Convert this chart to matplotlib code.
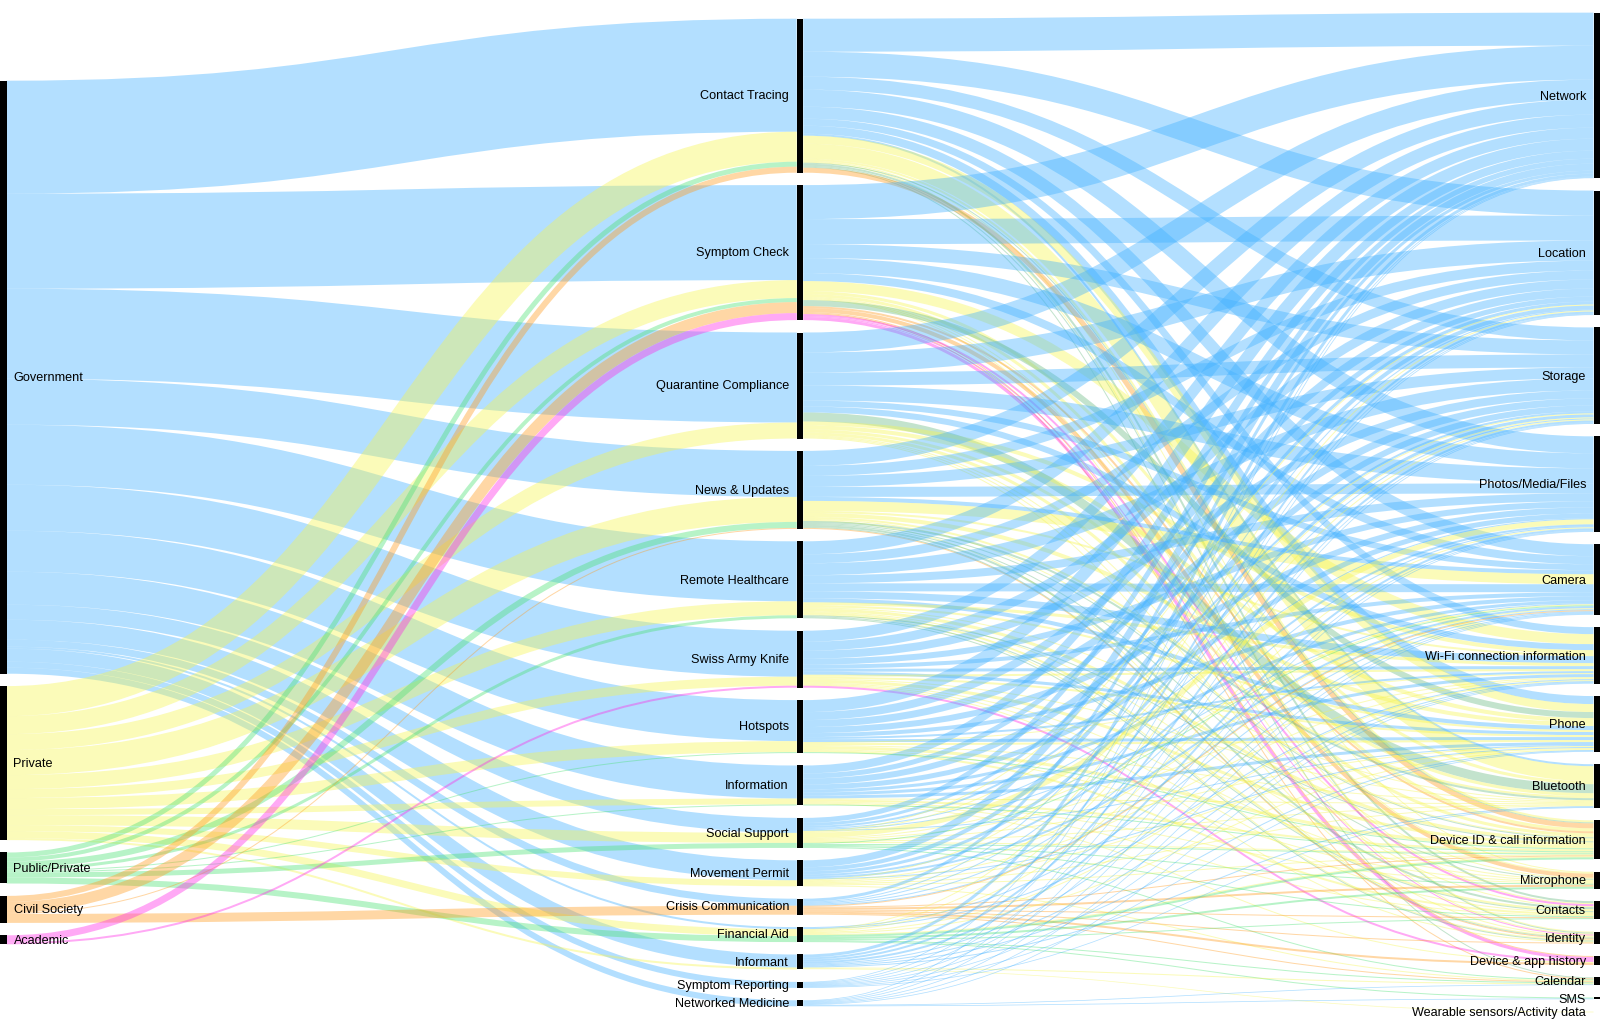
import matplotlib
matplotlib.use("Agg")
import matplotlib.pyplot as plt
from matplotlib.path import Path
from matplotlib.patches import PathPatch, Rectangle

plt.rcParams['font.family'] = ['Liberation Sans', 'DejaVu Sans']

sectors = ["Government", "Private", "Public/Private", "Civil Society", "Academic"]
purposes = ["Contact Tracing", "Symptom Check", "Quarantine Compliance", "News & Updates",
            "Remote Healthcare", "Swiss Army Knife", "Hotspots", "Information", "Social Support",
            "Movement Permit", "Crisis Communication", "Financial Aid", "Informant",
            "Symptom Reporting", "Networked Medicine"]
permissions = ["Network", "Location", "Storage", "Photos/Media/Files", "Camera",
               "Wi-Fi connection information", "Phone", "Bluetooth", "Device ID & call information",
               "Microphone", "Contacts", "Identity", "Device & app history", "Calendar", "SMS",
               "Wearable sensors/Activity data"]

# sector -> purpose, one row per sector
left_government = [113, 95, 90, 46, 60, 46, 41, 33, 15, 20, 7, 2, 13, 6, 6]
left_private = [30, 18, 16, 25, 14, 9, 11, 6, 10, 6, 0, 7, 2, 0, 0]
left_public = [5, 4, 0, 6, 3, 0, 1, 1, 5, 0, 0, 6, 0, 0, 0]
left_civil = [6, 11, 0, 1, 0, 0, 0, 0, 0, 0, 9, 0, 0, 0, 0]
left_academic = [0, 7, 0, 0, 0, 2, 0, 0, 0, 0, 0, 0, 0, 0, 0]

# purpose -> permission, one row per purpose, columns follow permissions (short rows end early)
right_government = [
    [33, 25, 13, 17, 12, 7, 8, 2],
    [34, 25, 14, 15, 8],
    [20, 20, 13, 15, 6, 6],
    [15, 10, 11, 10, 4],
    [13, 9, 12, 8, 8, 7, 4],
    [11, 9, 8, 6, 4, 3, 3],
    [12, 8, 7, 6, 4, 2, 3],
    [8, 5, 6, 5, 3, 3, 3],
    [5, 3, 2, 1, 1, 0, 1],
    [7, 4, 3, 2, 2, 0, 1],
    [3, 1, 1, 1, 1],
    [0, 0, 0, 0, 1, 1],
    [3, 2, 2, 2, 1, 1, 1, 1],
    [.75, .75, .75, .75, .75, .75, .75, .75],
    [.75, .75, .75, .75, .75, .75, 0, 0, 0, 0, 0, 0, 0, .75, .75],
]
right_blend_upper = [[], [], [0, 0, 0, 0, 0, 0, 0, 9]] + [[]] * 12
right_private = [
    [0, 0, 0, 0, 0, 0, 8, 15, 2, 1, 0, 1],
    [0, 0, 0, 0, 0, 10, 0, 3, 3, 1, 1, 1],
    [0, 0, 0, 0, 0, 4, 4, 3, 3, 1, 1, 1],
    [0, 0, 0, 0, 10, 2, 4, 2, 1, 0, 0, 1],
    [0, 0, 0, 0, 0, 3, 2, 1, 3, 1, 2, 1],
    [0, 0, 0, 0, 0, 2, 2, 1, 3, 1, 1, 1],
    [0, 0, 0, 0, 0, 1, 2, 1, 3, 1, 2],
    [0, 0, 0, 0, 0, 0, 0, 1, 2, 1, 1, 0, 1],
    [0, 1, 1, 5, 1, 1, 1, 1, 1],
    [0, 0, 1, 0, 1, 1, 1, 1, 1, 0, 0, 0, 0, 1],
    [],
    [0, 1, 1, 1, 0, 1, 1, 0, 1],
    [0, 0, 0, 0, 0, 0, 0, 0, 0, 0, 0, 0, 0, 1, 0, 0.7],
    [],
    [],
]
right_blend_lower = [
    [0, 0, 0, 0, 0, 0, 0, 0, 1, 0, 2, 1, 0, 1],
    [0, 0, 0, 0, 0, 0, 6],
    [],
    [0, 0, 0, 0, 0, 0, 0, 2, 1, 1, 2, 1],
    [0, 0, 0, 0, 0, 0, 0, 0, 1, 0, 1, 1],
] + [[]] * 10
right_public = [
    [], [], [], [], [], [],
    [0, 0, 0, 0, 0, 0, 0, 0, 1],
    [0, 0, 0, 0, 0, 0, 0, 0, 1],
    [0, 0, 0, 0, 1, 0, 0, 0, 1, 1, 1, 0, 0, 1],
    [], [],
    [0, 0, 0, 0, 0, 0, 0, 0, 2, 2, 1, 0, 0, 1, 1],
    [], [], [],
]
right_civil = [
    [0, 0, 0, 0, 0, 0, 0, 0, 5],
    [0, 0, 0, 0, 0, 0, 0, 0, 2, 4, 0, 0, 1, 1],
    [],
    [0, 0, 0, 0, 0, 0, 0, 0, 0, 0, 0, 1],
    [], [], [], [], [], [],
    [0, 0, 0, 0, 1, 0, 0, 0, 1, 2, 1, 1, 2, 1],
    [], [], [], [],
]
right_academic = [
    [],
    [0, 0, 0, 0, 0, 0, 0, 0, 0, 0, 2, 1, 3],
    [], [], [],
    [0, 0, 0, 0, 0, 0, 0, 0, 0, 0, 0, 0, 2],
    [], [], [], [], [], [], [], [], [],
]

BLUE = '#41b1ff'
YELLOW = '#f5f550'
GREEN = '#4be175'
ORANGE = '#ff9b1e'
PINK = '#ff2ae6'
BLEND = '#69bb82'
ALPHA = 0.4
DPI = 100
GAP = 12.4
CENTER = 512.5
BAR = 6.5

left_rows = [(left_government, BLUE), (left_private, YELLOW), (left_public, GREEN),
             (left_civil, ORANGE), (left_academic, PINK)]
right_rows = [(right_government, BLUE), (right_blend_upper, BLEND), (right_private, YELLOW),
              (right_blend_lower, BLEND), (right_public, GREEN), (right_civil, ORANGE),
              (right_academic, PINK)]

# flatten into (source, target, value, colour)
left_links = []
for s, (row, colour) in enumerate(left_rows):
    for p, v in enumerate(row):
        if v > 0:
            left_links.append((s, p, v, colour))

right_links = []
for p in range(len(purposes)):
    for rows, colour in right_rows:
        for q, v in enumerate(rows[p]):
            if v > 0:
                right_links.append((p, q, v, colour))


def column_tops(heights):
    total = sum(heights) + GAP * (len(heights) - 1)
    y = CENTER - total / 2
    tops = []
    for h in heights:
        tops.append(y)
        y += h + GAP
    return tops


sector_h = [sum(l[2] for l in left_links if l[0] == i) for i in range(len(sectors))]
purpose_h = [max(sum(l[2] for l in left_links if l[1] == i),
                 sum(l[2] for l in right_links if l[0] == i)) for i in range(len(purposes))]
perm_h = [sum(l[2] for l in right_links if l[1] == i) for i in range(len(permissions))]

sector_y = column_tops(sector_h)
purpose_y = column_tops(purpose_h)
perm_y = column_tops(perm_h)


def draw_link(ax, x0, a, x1, b, v, colour):
    xm = (x0 + x1) / 2
    path = Path([(x0, a), (xm, a), (xm, b), (x1, b)],
                [Path.MOVETO, Path.CURVE4, Path.CURVE4, Path.CURVE4])
    ax.add_patch(PathPatch(path, facecolor='none', edgecolor=colour, alpha=ALPHA,
                           lw=v * 72 / DPI, capstyle='butt'))


fig = plt.figure(figsize=(16, 10.25), dpi=DPI)
ax = fig.add_axes([0, 0, 1, 1])
ax.set_xlim(0, 1600)
ax.set_ylim(1025, 0)
ax.axis('off')

# left links are stacked at the purpose by sector, drawn sector by sector
src = list(sector_y)
dst = list(purpose_y)
for s, p, v, colour in left_links:
    a = src[s] + v / 2
    b = dst[p] + v / 2
    src[s] += v
    dst[p] += v
    draw_link(ax, BAR, a, 800 - BAR / 2, b, v, colour)

# right side keeps colour order inside a purpose, so walk it in list order
src = list(purpose_y)
dst = list(perm_y)
for p, q, v, colour in right_links:
    a = src[p] + v / 2
    b = dst[q] + v / 2
    src[p] += v
    dst[q] += v
    draw_link(ax, 800 + BAR / 2, a, 1600 - BAR, b, v, colour)

FS = 12.6 * 72 / DPI
for name, y, h in zip(sectors, sector_y, sector_h):
    ax.add_patch(Rectangle((0, y), BAR, h, color='black', lw=0))
    ax.text(13.5, y + h / 2 + 0.8, name, ha='left', va='center', fontsize=FS, color='black')
for name, y, h in zip(purposes, purpose_y, purpose_h):
    ax.add_patch(Rectangle((800 - BAR / 2, y), BAR, h, color='black', lw=0))
    ax.text(789, y + h / 2 + 0.8, name, ha='right', va='center', fontsize=FS, color='black')
for name, y, h in zip(permissions, perm_y, perm_h):
    ax.add_patch(Rectangle((1600 - BAR, y), BAR, h, color='black', lw=0))
    ax.text(1586, y + h / 2 + 1.2, name, ha='right', va='center', fontsize=FS, color='black')

fig.savefig('out.png', dpi=DPI)
